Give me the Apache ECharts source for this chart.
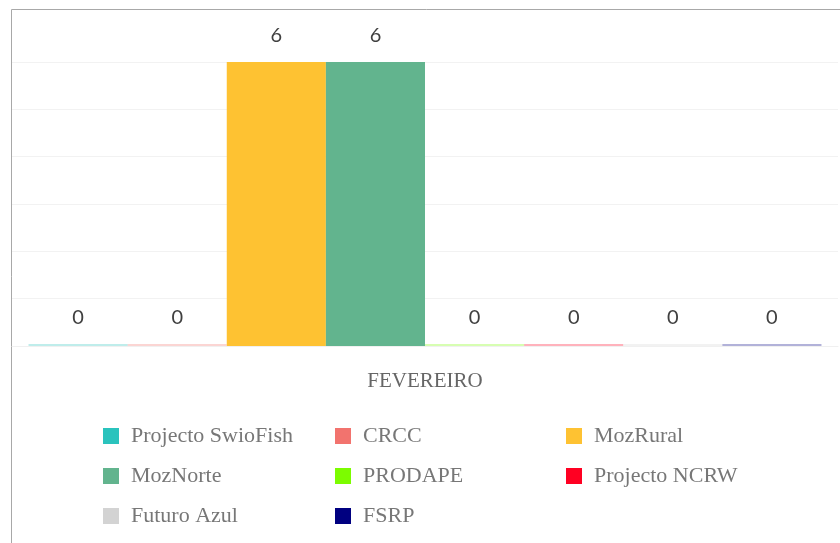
<!DOCTYPE html>
<html><head><meta charset="utf-8">
<script src="https://cdn.jsdelivr.net/npm/echarts@6/dist/echarts.min.js"></script>
<style>html,body{margin:0;padding:0;background:#fff}#c{width:840px;height:543px}</style>
</head><body><div id="c"></div>
<script>
const categories = ['FEVEREIRO'];
const seriesNames = ['Projecto SwioFish','CRCC','MozRural','MozNorte','PRODAPE','Projecto NCRW','Futuro Azul','FSRP'];
const seriesValues = [[0],[0],[6],[6],[0],[0],[0],[0]];
const colors = ['#2ac3bd','#f2736e','#fec232','#62b48e','#7cfc00','#ff0022','#d3d3d3','#000080'];
const legendCols = [['Projecto SwioFish','MozNorte','Futuro Azul'],['CRCC','PRODAPE','FSRP'],['MozRural','Projecto NCRW']];

const chart = echarts.init(document.getElementById('c'));
const serif = 'Liberation Serif';
const series = seriesNames.map((n,i)=>({
  name:n, type:'bar', barGap:0, barCategoryGap:'4%', barMinHeight:2,
  data: seriesValues[i].map(v=>({value:v, itemStyle:{color: v===0?echarts.color.modifyAlpha(colors[i],0.3):colors[i]}})),
  itemStyle:{color:colors[i]},
  label:{show:true, position:'top', distance:16, color:'#404040', fontFamily:'Lato', fontSize:20},
  emphasis:{disabled:true}
}));
const lefts=[98,330,561];
chart.setOption({
  animation:false,
  color:colors,
  grid:{left:12,right:2,top:62,bottom:197},
  xAxis:{type:'category',data:categories,axisLine:{lineStyle:{color:'#f0f0f0'}},axisTick:{show:false},
    axisLabel:{color:'#666',fontFamily:serif,fontSize:21,margin:25}},
  yAxis:{type:'value',min:0,max:6,interval:1,axisLabel:{show:false},axisLine:{show:false},axisTick:{show:false},
    splitLine:{lineStyle:{color:'#f2f2f2'}}},
  legend: legendCols.map((d,i)=>({orient:'vertical',left:lefts[i],top:420,data:d,itemWidth:16,itemHeight:16,itemGap:18,
    icon:'rect',textStyle:{color:'#777',fontFamily:serif,fontSize:22,padding:[0,0,0,7]},selectedMode:false})),
  graphic:[{type:'rect',shape:{x:11.5,y:9.5,width:900,height:600},style:{fill:'none',stroke:'#a8a8a8',lineWidth:1},silent:true}],
  series
});
</script></body></html>
